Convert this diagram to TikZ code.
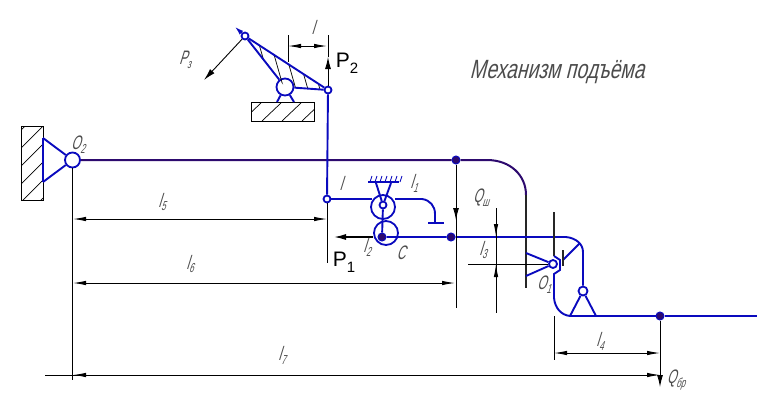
\documentclass[tikz,border=0pt]{standalone}
\usepackage{fontspec}
\setmainfont{Liberation Sans}
\newfontfamily\gostfont[FakeSlant=0.4,FakeStretch=0.8]{Liberation Sans}
\newfontfamily\titlefont[FakeSlant=0.3,FakeStretch=0.88]{Liberation Sans}
\usetikzlibrary{arrows.meta}
\definecolor{linkblue}{RGB}{10,10,190}
\definecolor{beamdark}{RGB}{45,10,110}
\newcommand{\thin}[1]{\scalebox{1}[1.3]{#1}}
\newcommand{\lsub}[2]{\thin{#1\raisebox{-3pt}{\fontsize{10}{10}\selectfont #2}}}
\newcommand{\psub}[2]{#1\raisebox{-6pt}{\fontsize{15}{15}\selectfont #2}}
\tikzset{
  link/.style={linkblue, line width=1.9pt},
  beam/.style={beamdark, line width=2pt},
  thinline/.style={black, line width=0.9pt},
  hatchline/.style={black, line width=0.7pt},
  heavy/.style={black!85, line width=1.8pt},
  dimline/.style={thinline, {Latex[length=13pt,width=4.5pt]}-{Latex[length=13pt,width=4.5pt]}},
  dimtip/.style={thinline, -{Latex[length=13pt,width=4.5pt]}},
  force/.style={thinline, -{Latex[length=12pt,width=6pt]}},
  pin/.style={circle, draw=linkblue, fill=white, line width=1.8pt, inner sep=0pt},
  dot/.style={circle, draw=linkblue, fill=beamdark, line width=1pt, minimum size=8pt, inner sep=0pt},
  lbl/.style={font=\gostfont\fontsize{15}{15}\selectfont, text=black!70, inner sep=0pt},
  big/.style={font=\fontsize{21}{21}\selectfont, text=black, inner sep=0pt},
}
\begin{document}
\begin{tikzpicture}[x=1pt,y=-1pt]
\useasboundingbox (0,0) rectangle (757,400);

% Wall with pivot O2
\draw[thinline] (21,126) rectangle (43,200);
\begin{scope}
  \clip (21,126) rectangle (43,200);
  \foreach \y in {130,148,...,220} {
    \draw[hatchline] (21,\y) -- (43,\y-22);
  }
\end{scope}
\draw[link] (43,138) -- (43,182);
\node[pin, minimum size=15pt] (otwo) at (72.5,160) {};
\coordinate (wallup) at (43,138);
\coordinate (walldown) at (43,182);
\draw[link] (wallup) -- (otwo);
\draw[link] (walldown) -- (otwo);

% Main beam
\node[dot] (beamdot) at (456,160) {};
\coordinate (beamend) at (526,288);
\draw[beam] (otwo) -- (beamdot) -- (487,160) .. controls (510,160) and (526,175) .. (526,195);
\draw[heavy] (526,195) -- (beamend);

% Upper lever
\node[pin, minimum size=7pt] (levtop) at (245,36) {};
\node[pin, minimum size=7pt] (levright) at (328,90) {};
\node[pin, minimum size=17pt] (levpivot) at (285,87) {};
\begin{scope}
  \clip (245,36) -- (328,90) -- (285,87) -- cycle;
  \foreach \x in {255,267,...,335} {
    \draw[hatchline] (\x,30) -- (\x+20,100);
  }
\end{scope}
\draw[link] (levtop) -- (levright);
\draw[link] (levtop) -- (levpivot);
\draw[link] (levpivot) -- (levright);
\draw[link, -{Latex[length=10pt,width=5pt]}] (levtop) -- (234,26);

% Lever support
\draw[thinline] (251,102) rectangle (314,121);
\begin{scope}
  \clip (251,102) rectangle (314,121);
  \foreach \x in {262,282,...,342} {
    \draw[hatchline] (\x-20,121) -- (\x,102);
  }
\end{scope}
\draw[link] (277,102) -- (levpivot);
\draw[link] (294,102) -- (levpivot);

% Connecting rod
\node[pin, minimum size=7pt] (rodlow) at (327,199) {};
\draw[link] (levright) -- (rodlow);

% Middle lever on its rollers
\node[pin, fill=none, minimum size=24pt] (rollup) at (383,207) {};
\node[pin, fill=none, minimum size=24pt] (rolldown) at (386,233) {};
\node[pin, minimum size=7pt] (rollpin) at (383,205) {};
\node[dot] (cdot) at (382,237) {};
\coordinate (groundl) at (368,182);
\coordinate (groundr) at (399,182);
\draw[link] (groundl) -- (groundr);
\foreach \x in {370,375,...,400} {
  \draw[linkblue, line width=0.9pt] (\x,182) -- (\x+2,176);
}
\draw[link] (376,183) -- (rollpin);
\draw[link] (391,183) -- (rollpin);
\draw[link] (rollpin) -- (cdot);
\draw[link] (rodlow) -- (372,199);
\draw[link] (395,199) -- (422,199) .. controls (430,200) and (435,206) .. (435,214) -- (435,223);
\draw[link] (428,223) -- (444,223);

% Second beam and bell crank
\node[dot] (ctwo) at (451,237) {};
\node[pin, minimum size=8pt] (oone) at (553,264) {};
\node[pin, minimum size=9pt] (crankpin) at (583,291) {};
\node[dot] (farDot) at (660,316) {};
\coordinate (bedl) at (570,316);
\coordinate (bedr) at (596,316);
\draw[link] (cdot) -- (ctwo) -- (566,237) .. controls (576,238) and (583,244) .. (583,252) -- (crankpin);
\draw[link] (526,253) -- (oone);
\draw[link] (526,276) -- (oone);
\draw[link] (563,260) -- (580,243);
\draw[heavy] (563,250) -- (563,266);
\draw[heavy] (554,212) -- (554,256);
\draw[link] (554,256) -- (560,260) -- (560,270) -- (554,274) -- (554,298) .. controls (555,308) and (561,315) .. (570,316);
\draw[link] (bedl) -- (crankpin);
\draw[link] (bedr) -- (crankpin);
\draw[link] (bedl) -- (farDot) -- (757,316);

% Extension lines
\draw[thinline] (otwo) -- (72.5,380);
\draw[thinline] (rodlow) -- (327,263);
\draw[thinline] (beamdot) -- (456,308);
\draw[thinline] (288,35) -- (288,62);
\draw[thinline] (554,316) -- (554,360);
\draw[thinline] (468,264) -- (oone);
\draw[thinline] (496,208) -- (496,313);

% Dimensions
\draw[dimline] (73,219) -- (327,219);
\draw[dimline] (73,283) -- (455,283);
\draw[dimline] (554,353) -- (660,353);
\draw[dimline] (288,46) -- (327,46);
\draw[dimtip] (45,375) -- (660,375);
\draw[dimtip] (120,375) -- (73,375);
\draw[dimtip] (496,222) -- (496,237);
\draw[dimtip] (496,280) -- (496,264);

% Forces
\draw[force] (levright) -- (328,57);
\draw[thinline] (328,57) -- (328,35);
\draw[force] (levtop) -- (204,80);
\draw[force, line width=1.4pt] (373,237) -- (334,237);
\draw[force] (beamdot) -- (456,220);
\draw[force] (farDot) -- (660,387);

% Labels
\node[lbl] (labp) at (185,60) {\lsub{P}{з}};
\node[lbl] (labl) at (313,27) {\thin{l}};
\node[big] (ptwo) at (347,63) {\psub{P}{2}};
\node[lbl] (labo) at (78,145) {\lsub{O}{2}};
\node[lbl] (labf) at (162,202) {\lsub{l}{5}};
\node[lbl] (labs) at (190,264) {\lsub{l}{6}};
\node[lbl] (labv) at (282,355) {\lsub{l}{7}};
\node[lbl] (lablm) at (341,183) {\thin{l}};
\node[lbl] (labla) at (414,183) {\lsub{l}{1}};
\node[lbl] (lablb) at (367,247) {\lsub{l}{2}};
\node[lbl] (labc) at (401,253) {\thin{C}};
\node[big] (pone) at (344,262) {\psub{P}{1}};
\node[lbl] (labq) at (481,198) {\lsub{Q}{ш}};
\node[lbl] (lablc) at (483,250) {\lsub{l}{3}};
\node[lbl] (laboo) at (544,285) {\lsub{O}{1}};
\node[lbl] (labld) at (600,341) {\lsub{l}{4}};
\node[lbl] (labqq) at (676,380) {\lsub{Q}{бр}};
\node[lbl, font=\titlefont\fontsize{22}{22}\selectfont] (title) at (557,72) {\scalebox{1}[1.2]{Механизм подъёма}};
\end{tikzpicture}
\end{document}
